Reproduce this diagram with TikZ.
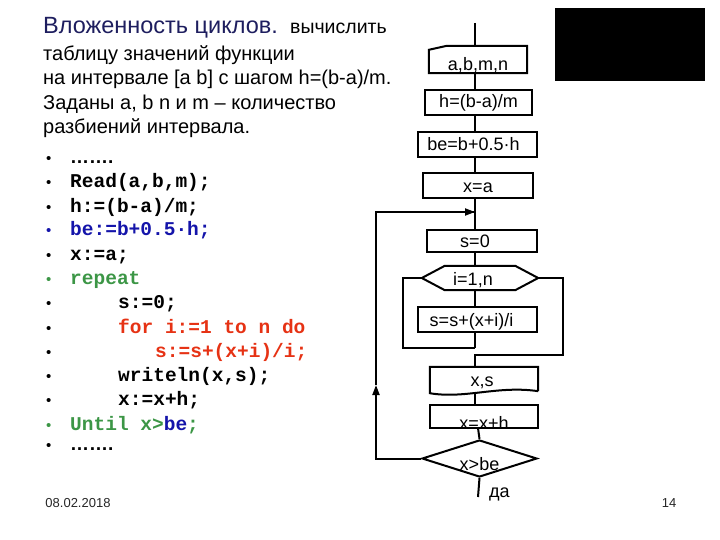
\documentclass[tikz,border=0pt]{standalone}
\usepackage{fontspec}
\setmainfont{Liberation Sans}
\newfontfamily\codefont{Liberation Mono}
\usetikzlibrary{arrows.meta,shapes.geometric}
\definecolor{titleblue}{RGB}{30,30,95}
\definecolor{codeblue}{RGB}{20,20,170}
\definecolor{codegreen}{RGB}{60,150,70}
\definecolor{codered}{RGB}{230,50,20}
\newcommand{\lowr}[2]{\raisebox{#1}[\height][\depth]{#2}}
\begin{document}
\begin{tikzpicture}[x=1pt,y=-1pt,
  txt/.style={anchor=base west, inner sep=0pt, font=\fontsize{20}{20}\selectfont},
  codeln/.style={anchor=base west, inner sep=0pt, font=\codefont\bfseries\fontsize{19.5}{19.5}\selectfont},
  bul/.style={anchor=base west, inner sep=0pt, font=\fontsize{15}{15}\selectfont},
  fbox/.style={draw, line width=2pt, inner sep=0pt, font=\fontsize{18}{18}\selectfont},
  fshape/.style={inner sep=0pt, font=\fontsize{18}{18}\selectfont},
  conn/.style={line width=2pt},
  arr/.style={conn, -{Triangle[length=10pt,width=7pt]}}
]
\useasboundingbox (0,0) rectangle (720,540);

% ---------- heading text ----------
\node[txt, font=\fontsize{23.5}{23.5}\selectfont, text=titleblue] (title) at (43,34) {Вложенность циклов.};
\node[txt, font=\fontsize{19.5}{19.5}\selectfont] (title2) at (290,34) {вычислить};
\node[txt] (l1) at (43,61) {таблицу значений функции};
\node[txt] (l2) at (43,85) {на интервале [a b] с шагом h=(b-a)/m.};
\node[txt] (l3) at (43,110) {Заданы a, b n и m -- количество};
\node[txt] (l4) at (43,134) {разбиений интервала.};

% ---------- code ----------
\foreach \yy/\cc [count=\k] in {164/black,188/black,212/black,236/codeblue,260/black,284/codegreen,308/black,333/black,357/black,381/black,405/black,430/codegreen,450/black}
  \node[bul, text=\cc] (b\k) at (46,\yy) {•};
\node[codeln, font=\bfseries\fontsize{19}{19}\selectfont] (c1) at (70,164) {…….};
\node[codeln] (c2) at (70,188) {Read(a,b,m);};
\node[codeln] (c3) at (70,212) {h:=(b-a)/m;};
\node[codeln, text=codeblue] (c4) at (70,236) {be:=b+0.5·h;};
\node[codeln] (c5) at (70,260) {x:=a;};
\node[codeln, text=codegreen] (c6) at (70,284) {repeat};
\node[codeln] (c7) at (118,308) {s:=0;};
\node[codeln, text=codered] (c8) at (118,333) {for i:=1 to n do};
\node[codeln, text=codered] (c9) at (155,357) {s:=s+(x+i)/i;};
\node[codeln] (c10) at (118,381) {writeln(x,s);};
\node[codeln] (c11) at (118,405) {x:=x+h;};
\node[codeln, text=codegreen] (c12) at (70,430) {Until x>\textcolor{codeblue}{be};};
\node[codeln, font=\bfseries\fontsize{19}{19}\selectfont] (c13) at (70,450) {…….};

% ---------- footer ----------
\node[anchor=center, inner sep=0pt, font=\fontsize{13}{13}\selectfont, text=black!85] (date) at (78,503) {08.02.2018};
\node[anchor=center, inner sep=0pt, font=\fontsize{13}{13}\selectfont, text=black!85] (pg) at (669,503) {14};

% ---------- black rectangle ----------
\fill[black] (555,8) rectangle (705,81);

% ---------- flowchart ----------
\coordinate (top) at (475,23);
\coordinate (col) at (475,0);

\node[fshape, minimum width=98pt, minimum height=27pt] (inp) at (478,59.5) {\lowr{-6pt}{a,b,m,n}};
\draw[conn] ([yshift=-4pt]inp.north west) -- ([xshift=18pt]inp.north west) -- (inp.north east) -- (inp.south east) -- (inp.south west) -- cycle;

\node[fbox, minimum width=107pt, minimum height=25pt] (hb) at (478.5,102.5) {h=(b-a)/m};
\node[fbox, minimum width=119pt, minimum height=25pt] (beb) at (477.5,144.5) {\hspace*{-8pt}be=b+0.5·h};
\node[fbox, minimum width=110pt, minimum height=25pt] (xa) at (478,185.5) {\lowr{-2pt}{x=a}};
\node[fbox, minimum width=110pt, minimum height=22pt] (s0) at (482,241) {\hspace*{-14pt}s=0};

\node[fshape, minimum width=116pt, minimum height=24pt] (loop) at (480,278) {\lowr{-2pt}{\hspace*{-14pt}i=1,n}};
\draw[conn] (loop.west) -- ([xshift=23pt]loop.north west) -- ([xshift=-23pt]loop.north east) -- (loop.east) -- ([xshift=-23pt]loop.south east) -- ([xshift=23pt]loop.south west) -- cycle;

\node[fbox, minimum width=119pt, minimum height=25pt] (body) at (477.5,319.5) {\lowr{-2pt}{\hspace*{-12pt}s=s+(x+i)/i}};

\node[fshape, minimum width=108pt, minimum height=26pt] (outp) at (484,380) {\lowr{-3pt}{\hspace*{-4pt}x,s}};
\draw[conn] ([yshift=2pt]outp.south east) -- (outp.north east) -- (outp.north west) -- (outp.south west)
  .. controls ([xshift=35pt,yshift=-6pt]outp.south west) and ([xshift=-40pt,yshift=8pt]outp.south east) .. ([yshift=2pt]outp.south east);

\node[fbox, minimum width=108pt, minimum height=23pt] (step1) at (484,416.5) {\lowr{-6pt}{x=x+h}};
\node[fshape, draw, line width=2pt, diamond, aspect=3.1, minimum width=115pt, minimum height=37pt] (dec) at (479.5,458.5) {\lowr{-6pt}{x>be}};
\coordinate (endp) at (478,497);
\node[anchor=west, inner sep=0pt, font=\fontsize{18}{18}\selectfont] (yes) at (489,494) {да};

% connectors
\coordinate (jn) at (475,212);
\coordinate (lc) at (376,385);
\draw[conn] (top) -- (top |- inp.north);
\draw[conn] (col |- inp.south) -- (col |- hb.north);
\draw[conn] (col |- hb.south) -- (col |- beb.north);
\draw[conn] (col |- beb.south) -- (col |- xa.north);
\draw[conn] (col |- xa.south) -- (col |- s0.north);
\draw[conn] (col |- s0.south) -- (col |- loop.north);
\draw[conn] (col |- loop.south) -- (col |- body.north);
\draw[conn] (col |- body.south) -- (475,348);
\draw[conn] (loop.west) -- (403,278) -- (403,348) -- (475,348);
\draw[conn] (loop.east) -- (563,278) -- (563,355) -- (475,355) -- (col |- outp.north);
\draw[conn] ([yshift=-1pt]col |- outp.south) -- (col |- step1.north);
\draw[conn] (478,428) -- (dec.north);
\draw[conn] (dec.south) -- (endp);
\draw[arr] (dec.west) -| (lc);
\draw[conn] (lc) -- (376,380) |- (jn);
\draw[arr] (376,212) -- (jn);
\end{tikzpicture}
\end{document}
